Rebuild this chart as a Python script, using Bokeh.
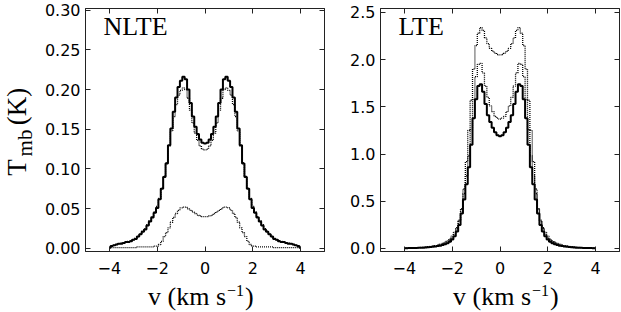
import math
from bokeh.plotting import figure
from bokeh.models import (ColumnDataSource, Range1d, FixedTicker, LinearAxis,
                          PrintfTickFormatter, Label)
from bokeh.layouts import row, column
from bokeh.core.properties import value
from bokeh.embed import file_html
from bokeh.resources import INLINE

# ---------------- data ----------------
V = [-4.0, -3.9, -3.8, -3.7, -3.6, -3.5, -3.4, -3.3, -3.2, -3.1,
     -3.0, -2.9, -2.8, -2.7, -2.6, -2.5, -2.4, -2.3, -2.2, -2.1,
     -2.0, -1.9, -1.8, -1.7, -1.6, -1.5, -1.4, -1.3, -1.2, -1.1,
     -1.0, -0.9, -0.8, -0.7, -0.6, -0.5, -0.4, -0.3, -0.2, -0.1,
     0.0,
     0.1, 0.2, 0.3, 0.4, 0.5, 0.6, 0.7, 0.8, 0.9, 1.0,
     1.1, 1.2, 1.3, 1.4, 1.5, 1.6, 1.7, 1.8, 1.9, 2.0,
     2.1, 2.2, 2.3, 2.4, 2.5, 2.6, 2.7, 2.8, 2.9, 3.0,
     3.1, 3.2, 3.3, 3.4, 3.5, 3.6, 3.7, 3.8, 3.9, 4.0]

NLTE_SOLID = [0.001, 0.003, 0.004, 0.005, 0.006, 0.006, 0.007, 0.008, 0.008, 0.009,
              0.011, 0.012, 0.015, 0.018, 0.021, 0.024, 0.029, 0.034, 0.039, 0.045,
              0.051, 0.062, 0.075, 0.090, 0.107, 0.130, 0.151, 0.172, 0.190, 0.203,
              0.211, 0.216, 0.213, 0.200, 0.183, 0.166, 0.153, 0.144, 0.137, 0.133,
              0.132,
              0.133, 0.137, 0.144, 0.153, 0.166, 0.183, 0.200, 0.213, 0.216, 0.211,
              0.203, 0.190, 0.172, 0.151, 0.130, 0.107, 0.090, 0.075, 0.062, 0.051,
              0.045, 0.039, 0.034, 0.029, 0.024, 0.021, 0.018, 0.015, 0.012, 0.011,
              0.009, 0.008, 0.008, 0.007, 0.006, 0.006, 0.005, 0.004, 0.003, 0.001]

NLTE_DOT_HIGH = [0.001, 0.003, 0.004, 0.005, 0.006, 0.007, 0.007, 0.008, 0.009, 0.010,
                 0.011, 0.013, 0.015, 0.018, 0.022, 0.025, 0.030, 0.035, 0.040, 0.046,
                 0.053, 0.063, 0.076, 0.091, 0.108, 0.129, 0.148, 0.166, 0.181, 0.193,
                 0.199, 0.202, 0.200, 0.189, 0.174, 0.158, 0.145, 0.136, 0.129, 0.125,
                 0.124,
                 0.125, 0.129, 0.136, 0.145, 0.158, 0.174, 0.189, 0.200, 0.202, 0.199,
                 0.193, 0.181, 0.166, 0.148, 0.129, 0.108, 0.091, 0.076, 0.063, 0.053,
                 0.046, 0.040, 0.035, 0.030, 0.025, 0.022, 0.018, 0.015, 0.013, 0.011,
                 0.010, 0.009, 0.008, 0.007, 0.007, 0.006, 0.005, 0.004, 0.003, 0.001]

NLTE_DOT_LOW = [0.001, 0.001, 0.001, 0.001, 0.001, 0.001, 0.001, 0.001, 0.001, 0.001,
                0.001, 0.001, 0.002, 0.002, 0.002, 0.002, 0.002, 0.002, 0.002, 0.003,
                0.003, 0.005, 0.009, 0.015, 0.020, 0.026, 0.033, 0.039, 0.044, 0.048,
                0.051, 0.052, 0.052, 0.050, 0.048, 0.046, 0.044, 0.042, 0.041, 0.040,
                0.040,
                0.040, 0.041, 0.042, 0.044, 0.046, 0.048, 0.050, 0.052, 0.052, 0.051,
                0.048, 0.044, 0.039, 0.033, 0.026, 0.020, 0.015, 0.009, 0.005, 0.003,
                0.003, 0.002, 0.002, 0.002, 0.002, 0.002, 0.002, 0.002, 0.001, 0.001,
                0.001, 0.001, 0.001, 0.001, 0.001, 0.001, 0.001, 0.001, 0.001, 0.001]

LTE_SOLID = [0.003, 0.003, 0.004, 0.004, 0.005, 0.006, 0.007, 0.008, 0.009, 0.011,
             0.013, 0.015, 0.018, 0.021, 0.025, 0.030, 0.036, 0.044, 0.055, 0.070,
             0.095, 0.13, 0.18, 0.25, 0.37, 0.52, 0.68, 0.86, 1.10, 1.38,
             1.58, 1.72, 1.74, 1.66, 1.53, 1.41, 1.34, 1.28, 1.23, 1.20,
             1.19,
             1.20, 1.23, 1.28, 1.34, 1.41, 1.53, 1.66, 1.74, 1.72, 1.58,
             1.38, 1.10, 0.86, 0.68, 0.52, 0.37, 0.25, 0.18, 0.13, 0.095,
             0.070, 0.055, 0.044, 0.036, 0.030, 0.025, 0.021, 0.018, 0.015, 0.013,
             0.011, 0.009, 0.008, 0.007, 0.006, 0.005, 0.004, 0.004, 0.003, 0.003]

LTE_DOT_MID = [0.004, 0.004, 0.005, 0.006, 0.007, 0.008, 0.009, 0.010, 0.012, 0.014,
               0.016, 0.019, 0.022, 0.026, 0.031, 0.037, 0.045, 0.055, 0.068, 0.085,
               0.11, 0.15, 0.21, 0.29, 0.42, 0.58, 0.77, 0.98, 1.26, 1.58,
               1.82, 1.95, 1.96, 1.86, 1.72, 1.60, 1.51, 1.45, 1.40, 1.38,
               1.37,
               1.38, 1.40, 1.45, 1.51, 1.60, 1.72, 1.86, 1.96, 1.95, 1.82,
               1.58, 1.26, 0.98, 0.77, 0.58, 0.42, 0.29, 0.21, 0.15, 0.11,
               0.085, 0.068, 0.055, 0.045, 0.037, 0.031, 0.026, 0.022, 0.019, 0.016,
               0.014, 0.012, 0.010, 0.009, 0.008, 0.007, 0.006, 0.005, 0.004, 0.004]

LTE_DOT_TOP = [0.005, 0.005, 0.006, 0.007, 0.008, 0.009, 0.010, 0.012, 0.014, 0.016,
               0.019, 0.022, 0.026, 0.031, 0.037, 0.045, 0.054, 0.066, 0.080, 0.10,
               0.13, 0.17, 0.22, 0.30, 0.42, 0.63, 0.92, 1.25, 1.57, 1.90,
               2.15, 2.28, 2.34, 2.31, 2.23, 2.17, 2.12, 2.09, 2.07, 2.055,
               2.05,
               2.055, 2.07, 2.09, 2.12, 2.17, 2.23, 2.31, 2.34, 2.28, 2.15,
               1.90, 1.57, 1.25, 0.92, 0.63, 0.42, 0.30, 0.22, 0.17, 0.13,
               0.10, 0.080, 0.066, 0.054, 0.045, 0.037, 0.031, 0.026, 0.022, 0.019,
               0.016, 0.014, 0.012, 0.010, 0.009, 0.008, 0.007, 0.006, 0.005, 0.005]

X_TICKS = [-4, -2, 0, 2, 4]
X_TICK_LABELS = {-4: "\u22124", -2: "\u22122", 0: "0", 2: "2", 4: "4"}
NLTE_Y_TICKS = [0.0, 0.05, 0.10, 0.15, 0.20, 0.25, 0.30]
LTE_Y_TICKS = [0.0, 0.5, 1.0, 1.5, 2.0, 2.5]
PANEL_TITLES = ["NLTE", "LTE"]
X_LABEL_PARTS = ["v (km s", "\u22121", ")"]
Y_LABEL_PARTS = ["T", "mb", "(K)"]

# ---------------- layout / styling ----------------
SERIF = "Liberation Serif"
SANS = "DejaVu Sans"
FRAME = "#222222"
TOTAL_H = 312
TOP, BOTTOM = 8, 29
PANEL_H = 280
STRIP_H = TOTAL_H - PANEL_H
YLAB_W = 36
P1_LEFT, P1_FW, P1_RIGHT = 49, 239, 10
P2_LEFT, P2_FW, P2_RIGHT = 46, 239, 1


def style_axis(ax, ticks, show_labels, standoff=5, fmt=None):
    ax.ticker = FixedTicker(ticks=ticks)
    ax.major_tick_in = 5
    ax.major_tick_out = 0
    ax.minor_tick_in = 0
    ax.minor_tick_out = 0
    ax.axis_line_color = FRAME
    ax.axis_line_width = 1
    ax.major_tick_line_color = FRAME
    ax.major_tick_line_width = 1
    ax.axis_label = None
    if show_labels:
        ax.major_label_text_font = SANS
        ax.major_label_text_font_size = "16px"
        ax.major_label_text_color = "black"
        ax.major_label_standoff = standoff
        if fmt is not None:
            ax.formatter = fmt
    else:
        ax.major_label_overrides = {t: "" for t in ticks}
        ax.major_label_text_font_size = "0px"
        ax.major_label_standoff = 0


def make_panel(y_start, y_end, yticks, yfmt, series, title, left, fw, right):
    p = figure(width=left + fw + right, height=PANEL_H, title=None,
               x_range=Range1d(-5, 5), y_range=Range1d(y_start, y_end),
               output_backend="svg", toolbar_location=None,
               min_border_left=left, min_border_right=right,
               min_border_top=TOP, min_border_bottom=BOTTOM)
    p.grid.visible = False
    p.outline_line_color = FRAME
    p.background_fill_color = "white"
    p.border_fill_color = "white"

    style_axis(p.below[0], X_TICKS, True, standoff=10)
    p.below[0].major_label_overrides = X_TICK_LABELS
    style_axis(p.left[0], yticks, True, standoff=5, fmt=yfmt)

    top = LinearAxis()
    style_axis(top, X_TICKS, False)
    p.add_layout(top, "above")
    rax = LinearAxis()
    style_axis(rax, yticks, False)
    p.add_layout(rax, "right")

    for ys, kind in series:
        src = ColumnDataSource(dict(v=V, t=ys))
        if kind == "solid":
            p.step("v", "t", source=src, mode="center", line_color="black",
                   line_width=2)
        else:
            p.step("v", "t", source=src, mode="center", line_color="black",
                   line_width=1.3, line_dash="1 1")

    # panel tag near the upper-left corner of the frame
    p.add_layout(Label(x=18, y=PANEL_H - BOTTOM - 26, x_units="screen",
                       y_units="screen", text=title, text_font=SERIF,
                       text_font_size="26px", text_color="black",
                       text_baseline="middle", text_align="left"))
    return p


def strip(w, h):
    s = figure(width=w, height=h, title=None, x_range=Range1d(0, w),
               y_range=Range1d(0, h),
               x_axis_type=None, y_axis_type=None, min_border=0,
               min_border_left=0, min_border_right=0, min_border_top=0,
               min_border_bottom=0,
               toolbar_location=None, output_backend="svg")
    s.grid.visible = False
    s.outline_line_color = None
    s.background_fill_color = "white"
    s.border_fill_color = "white"
    return s


def xlabel_strip(w, center):
    s = strip(w, STRIP_H)
    x0 = center - 53
    mid = 16
    s.text(x=[x0, x0 + 97], y=[mid, mid], text=[X_LABEL_PARTS[0], X_LABEL_PARTS[2]],
           text_font=value(SERIF), text_font_size=value("26px"),
           text_color="black", text_baseline="middle", text_align="left")
    s.text(x=[x0 + 79], y=[mid + 6.5], text=[X_LABEL_PARTS[1]],
           text_font=value(SERIF), text_font_size=value("16px"),
           text_color="black", text_baseline="middle", text_align="left")
    return s


p1 = make_panel(-0.0038, 0.3019, NLTE_Y_TICKS, PrintfTickFormatter(format="%.2f"),
                [(NLTE_SOLID, "solid"), (NLTE_DOT_HIGH, "dot"), (NLTE_DOT_LOW, "dot")],
                PANEL_TITLES[0], P1_LEFT, P1_FW, P1_RIGHT)
p2 = make_panel(-0.032, 2.542, LTE_Y_TICKS, PrintfTickFormatter(format="%.1f"),
                [(LTE_SOLID, "solid"), (LTE_DOT_MID, "dot"), (LTE_DOT_TOP, "dot")],
                PANEL_TITLES[1], P2_LEFT, P2_FW, P2_RIGHT)

W1 = P1_LEFT + P1_FW + P1_RIGHT
W2 = P2_LEFT + P2_FW + P2_RIGHT
xl1 = xlabel_strip(W1, P1_LEFT + P1_FW / 2 - 4)
xl2 = xlabel_strip(W2, P2_LEFT + P2_FW / 2 + 6)

# y label strip: T_mb (K), rotated
yl = strip(YLAB_W, TOTAL_H)
yl.text(x=[16, 16], y=[TOTAL_H - 167, TOTAL_H - 106],
        text=[Y_LABEL_PARTS[0], Y_LABEL_PARTS[2]],
        text_font=value(SERIF), text_font_size=value("27px"), text_color="black",
        text_baseline="middle", text_align="center", angle=math.pi / 2)
yl.text(x=[24], y=[TOTAL_H - 142.5], text=[Y_LABEL_PARTS[1]],
        text_font=value(SERIF), text_font_size=value("21px"), text_color="black",
        text_baseline="middle", text_align="center", angle=math.pi / 2)

layout = row(yl, column(row(p1, p2), row(xl1, xl2)))
open("out.html", "w").write(file_html(layout, INLINE))
